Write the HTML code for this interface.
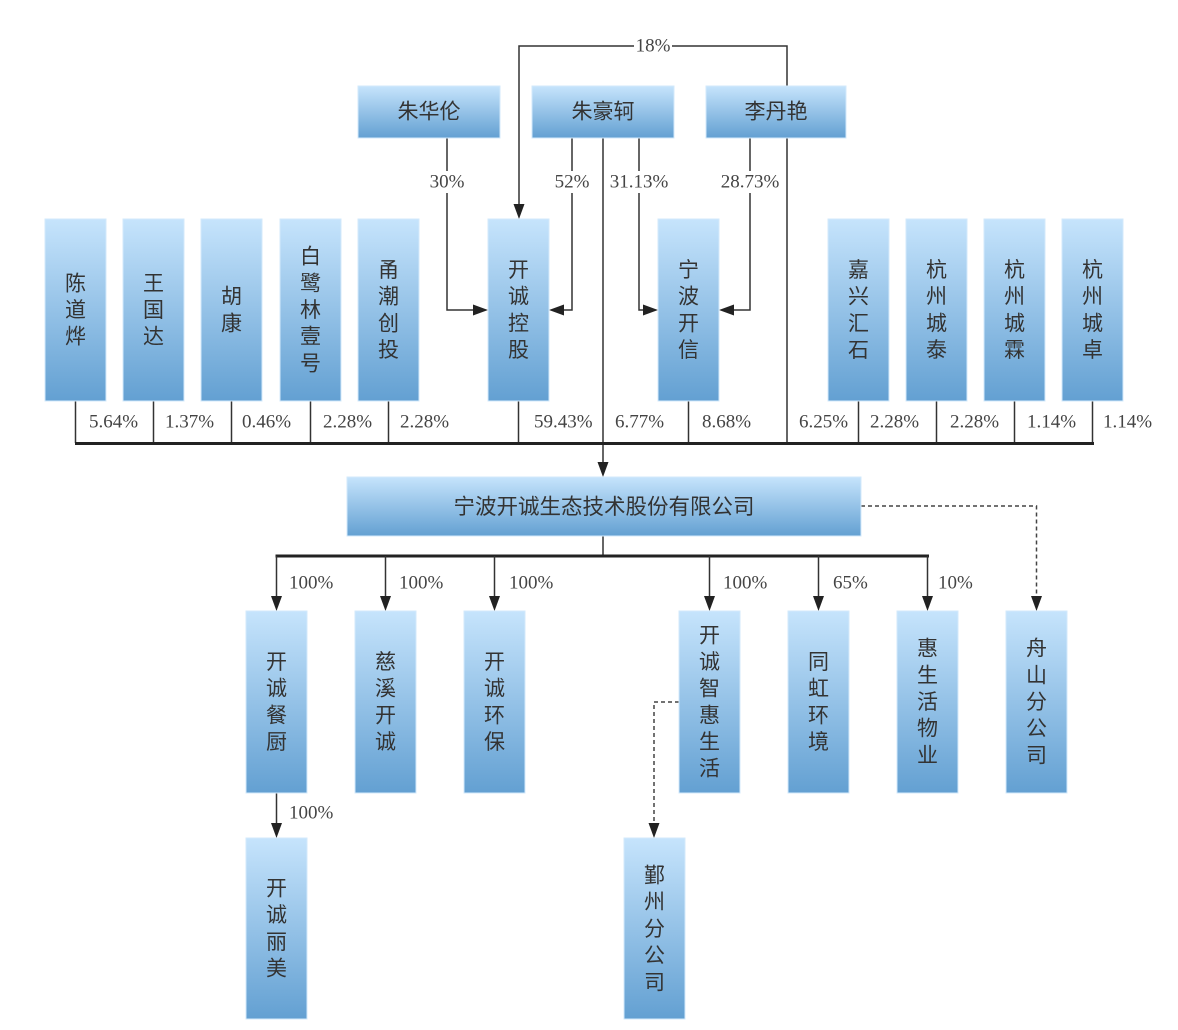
<!DOCTYPE html>
<html><head><meta charset="utf-8"><style>
html,body{margin:0;padding:0;background:#fff;}
svg{display:block;}
.c{font-family:"Liberation Sans","Noto Sans CJK SC",sans-serif;font-size:21px;fill:#333;text-anchor:middle;dominant-baseline:central;}
.p{font-family:"Liberation Serif",serif;font-size:19px;fill:#444;dominant-baseline:central;}
.pm{font-family:"Liberation Serif",serif;font-size:19px;fill:#444;dominant-baseline:central;text-anchor:middle;}
.ln{stroke:#333;stroke-width:1.5;fill:none;}
.dl{stroke:#444;stroke-width:1.5;fill:none;stroke-dasharray:4 3;}
.bx{fill:url(#g);stroke:#d3e9fb;stroke-width:1;}
</style></head><body>
<svg width="1178" height="1030" viewBox="0 0 1178 1030" xmlns="http://www.w3.org/2000/svg">
<defs>
<linearGradient id="g" x1="0" y1="0" x2="0" y2="1">
<stop offset="0" stop-color="#c6e4fc"/>
<stop offset="1" stop-color="#63a0d2"/>
</linearGradient>
</defs>

<!-- connectors top -->
<path class="ln" d="M447 138 V310 H474"/>
<polygon points="473,304.5 473,315.5 488,310" fill="#222"/>
<path class="ln" d="M572 138 V310 H563"/>
<polygon points="564,304.5 564,315.5 549,310" fill="#222"/>
<path class="ln" d="M603 138 V462"/>
<polygon points="597.5,462 608.5,462 603,477" fill="#222"/>
<path class="ln" d="M639 138 V310 H644"/>
<polygon points="643,304.5 643,315.5 658,310" fill="#222"/>
<path class="ln" d="M750 138 V310 H733"/>
<polygon points="734,304.5 734,315.5 719,310" fill="#222"/>
<path class="ln" d="M787 138 V443"/>
<path class="ln" d="M787 86 V46 H519 V204"/>
<polygon points="513.5,204 524.5,204 519,219" fill="#222"/>

<!-- drops to bar -->
<path class="ln" d="M75.5 401V443M153.5 401V443M231.5 401V443M310.5 401V443M388.5 401V443M518.5 401V443M688.5 401V443M858.5 401V443M936.5 401V443M1014.5 401V443M1092.5 401V443"/>
<line x1="75" y1="443.5" x2="1094" y2="443.5" stroke="#222" stroke-width="3"/>

<!-- lower -->
<path class="ln" d="M603 536 V556"/>
<line x1="275.5" y1="556" x2="929" y2="556" stroke="#222" stroke-width="3"/>
<path class="ln" d="M276.5 556V597M385.5 556V597M494.5 556V597M709.5 556V597M818.5 556V597M927.5 556V597"/>
<polygon points="271,596 282,596 276.5,611" fill="#222"/>
<polygon points="380,596 391,596 385.5,611" fill="#222"/>
<polygon points="489,596 500,596 494.5,611" fill="#222"/>
<polygon points="704,596 715,596 709.5,611" fill="#222"/>
<polygon points="813,596 824,596 818.5,611" fill="#222"/>
<polygon points="922,596 933,596 927.5,611" fill="#222"/>
<path class="ln" d="M276.5 793 V824"/>
<polygon points="271,823 282,823 276.5,838" fill="#222"/>
<path class="dl" d="M861 506 H1036.5 V597"/>
<polygon points="1031,596 1042,596 1036.5,611" fill="#222"/>
<path class="dl" d="M679 702 H654 V824"/>
<polygon points="648.5,823 659.5,823 654,838" fill="#222"/>

<!-- label backgrounds -->
<rect x="427" y="171" width="40" height="22" fill="#fff"/>
<rect x="552" y="171" width="40" height="22" fill="#fff"/>
<rect x="608" y="171" width="62" height="22" fill="#fff"/>
<rect x="719" y="171" width="62" height="22" fill="#fff"/>
<rect x="634" y="36" width="38" height="22" fill="#fff"/>
<text class="pm" x="447" y="182">30%</text>
<text class="pm" x="572" y="182">52%</text>
<text class="pm" x="639" y="182">31.13%</text>
<text class="pm" x="750" y="182">28.73%</text>
<text class="pm" x="653" y="46">18%</text>

<!-- bar labels -->
<text class="p" x="89" y="422">5.64%</text>
<text class="p" x="165" y="422">1.37%</text>
<text class="p" x="242" y="422">0.46%</text>
<text class="p" x="323" y="422">2.28%</text>
<text class="p" x="400" y="422">2.28%</text>
<text class="p" x="534" y="422">59.43%</text>
<text class="p" x="615" y="422">6.77%</text>
<text class="p" x="702" y="422">8.68%</text>
<text class="p" x="799" y="422">6.25%</text>
<text class="p" x="870" y="422">2.28%</text>
<text class="p" x="950" y="422">2.28%</text>
<text class="p" x="1027" y="422">1.14%</text>
<text class="p" x="1103" y="422">1.14%</text>

<text class="p" x="289" y="583">100%</text>
<text class="p" x="399" y="583">100%</text>
<text class="p" x="509" y="583">100%</text>
<text class="p" x="723" y="583">100%</text>
<text class="p" x="833" y="583">65%</text>
<text class="p" x="938" y="583">10%</text>
<text class="p" x="289" y="813">100%</text>

<!-- top boxes -->
<rect class="bx" x="358" y="86" width="142" height="52"/>
<text class="c" x="429" y="112">朱华伦</text>
<rect class="bx" x="532" y="86" width="142" height="52"/>
<text class="c" x="603" y="112">朱豪轲</text>
<rect class="bx" x="706" y="86" width="140" height="52"/>
<text class="c" x="776" y="112">李丹艳</text>

<!-- row 2 boxes -->
<rect class="bx" x="45" y="219" width="61" height="182"/>
<text class="c" x="75.5"><tspan x="75.5" y="283.3">陈</tspan><tspan x="75.5" y="310">道</tspan><tspan x="75.5" y="336.7">烨</tspan></text>
<rect class="bx" x="123" y="219" width="61" height="182"/>
<text class="c"><tspan x="153.5" y="283.3">王</tspan><tspan x="153.5" y="310">国</tspan><tspan x="153.5" y="336.7">达</tspan></text>
<rect class="bx" x="201" y="219" width="61" height="182"/>
<text class="c"><tspan x="231.5" y="296.6">胡</tspan><tspan x="231.5" y="323.3">康</tspan></text>
<rect class="bx" x="280" y="219" width="61" height="182"/>
<text class="c"><tspan x="310.5" y="256.6">白</tspan><tspan x="310.5" y="283.3">鹭</tspan><tspan x="310.5" y="310">林</tspan><tspan x="310.5" y="336.7">壹</tspan><tspan x="310.5" y="363.4">号</tspan></text>
<rect class="bx" x="358" y="219" width="61" height="182"/>
<text class="c"><tspan x="388.5" y="270">甬</tspan><tspan x="388.5" y="296.6">潮</tspan><tspan x="388.5" y="323.3">创</tspan><tspan x="388.5" y="350">投</tspan></text>
<rect class="bx" x="488" y="219" width="61" height="182"/>
<text class="c"><tspan x="518.5" y="270">开</tspan><tspan x="518.5" y="296.6">诚</tspan><tspan x="518.5" y="323.3">控</tspan><tspan x="518.5" y="350">股</tspan></text>
<rect class="bx" x="658" y="219" width="61" height="182"/>
<text class="c"><tspan x="688.5" y="270">宁</tspan><tspan x="688.5" y="296.6">波</tspan><tspan x="688.5" y="323.3">开</tspan><tspan x="688.5" y="350">信</tspan></text>
<rect class="bx" x="828" y="219" width="61" height="182"/>
<text class="c"><tspan x="858.5" y="270">嘉</tspan><tspan x="858.5" y="296.6">兴</tspan><tspan x="858.5" y="323.3">汇</tspan><tspan x="858.5" y="350">石</tspan></text>
<rect class="bx" x="906" y="219" width="61" height="182"/>
<text class="c"><tspan x="936.5" y="270">杭</tspan><tspan x="936.5" y="296.6">州</tspan><tspan x="936.5" y="323.3">城</tspan><tspan x="936.5" y="350">泰</tspan></text>
<rect class="bx" x="984" y="219" width="61" height="182"/>
<text class="c"><tspan x="1014.5" y="270">杭</tspan><tspan x="1014.5" y="296.6">州</tspan><tspan x="1014.5" y="323.3">城</tspan><tspan x="1014.5" y="350">霖</tspan></text>
<rect class="bx" x="1062" y="219" width="61" height="182"/>
<text class="c"><tspan x="1092.5" y="270">杭</tspan><tspan x="1092.5" y="296.6">州</tspan><tspan x="1092.5" y="323.3">城</tspan><tspan x="1092.5" y="350">卓</tspan></text>

<!-- main box -->
<rect class="bx" x="347" y="477" width="514" height="59"/>
<text class="c" x="604" y="507" style="font-size:21.5px">宁波开诚生态技术股份有限公司</text>

<!-- row 4 -->
<rect class="bx" x="246" y="611" width="61" height="182"/>
<text class="c"><tspan x="276.5" y="662">开</tspan><tspan x="276.5" y="688.6">诚</tspan><tspan x="276.5" y="715.3">餐</tspan><tspan x="276.5" y="742">厨</tspan></text>
<rect class="bx" x="355" y="611" width="61" height="182"/>
<text class="c"><tspan x="385.5" y="662">慈</tspan><tspan x="385.5" y="688.6">溪</tspan><tspan x="385.5" y="715.3">开</tspan><tspan x="385.5" y="742">诚</tspan></text>
<rect class="bx" x="464" y="611" width="61" height="182"/>
<text class="c"><tspan x="494.5" y="662">开</tspan><tspan x="494.5" y="688.6">诚</tspan><tspan x="494.5" y="715.3">环</tspan><tspan x="494.5" y="742">保</tspan></text>
<rect class="bx" x="679" y="611" width="61" height="182"/>
<text class="c"><tspan x="709.5" y="635.3">开</tspan><tspan x="709.5" y="662">诚</tspan><tspan x="709.5" y="688.6">智</tspan><tspan x="709.5" y="715.3">惠</tspan><tspan x="709.5" y="742">生</tspan><tspan x="709.5" y="768.7">活</tspan></text>
<rect class="bx" x="788" y="611" width="61" height="182"/>
<text class="c"><tspan x="818.5" y="662">同</tspan><tspan x="818.5" y="688.6">虹</tspan><tspan x="818.5" y="715.3">环</tspan><tspan x="818.5" y="742">境</tspan></text>
<rect class="bx" x="897" y="611" width="61" height="182"/>
<text class="c"><tspan x="927.5" y="648.6">惠</tspan><tspan x="927.5" y="675.3">生</tspan><tspan x="927.5" y="702">活</tspan><tspan x="927.5" y="728.7">物</tspan><tspan x="927.5" y="755.4">业</tspan></text>
<rect class="bx" x="1006" y="611" width="61" height="182"/>
<text class="c"><tspan x="1036.5" y="648.6">舟</tspan><tspan x="1036.5" y="675.3">山</tspan><tspan x="1036.5" y="702">分</tspan><tspan x="1036.5" y="728.7">公</tspan><tspan x="1036.5" y="755.4">司</tspan></text>

<!-- row 5 -->
<rect class="bx" x="246" y="838" width="61" height="181"/>
<text class="c"><tspan x="276.5" y="888.5">开</tspan><tspan x="276.5" y="915.2">诚</tspan><tspan x="276.5" y="941.9">丽</tspan><tspan x="276.5" y="968.6">美</tspan></text>
<rect class="bx" x="624" y="838" width="61" height="181"/>
<text class="c"><tspan x="654.5" y="875.5">鄞</tspan><tspan x="654.5" y="902.2">州</tspan><tspan x="654.5" y="928.9">分</tspan><tspan x="654.5" y="955.6">公</tspan><tspan x="654.5" y="982.3">司</tspan></text>
</svg>
</body></html>
